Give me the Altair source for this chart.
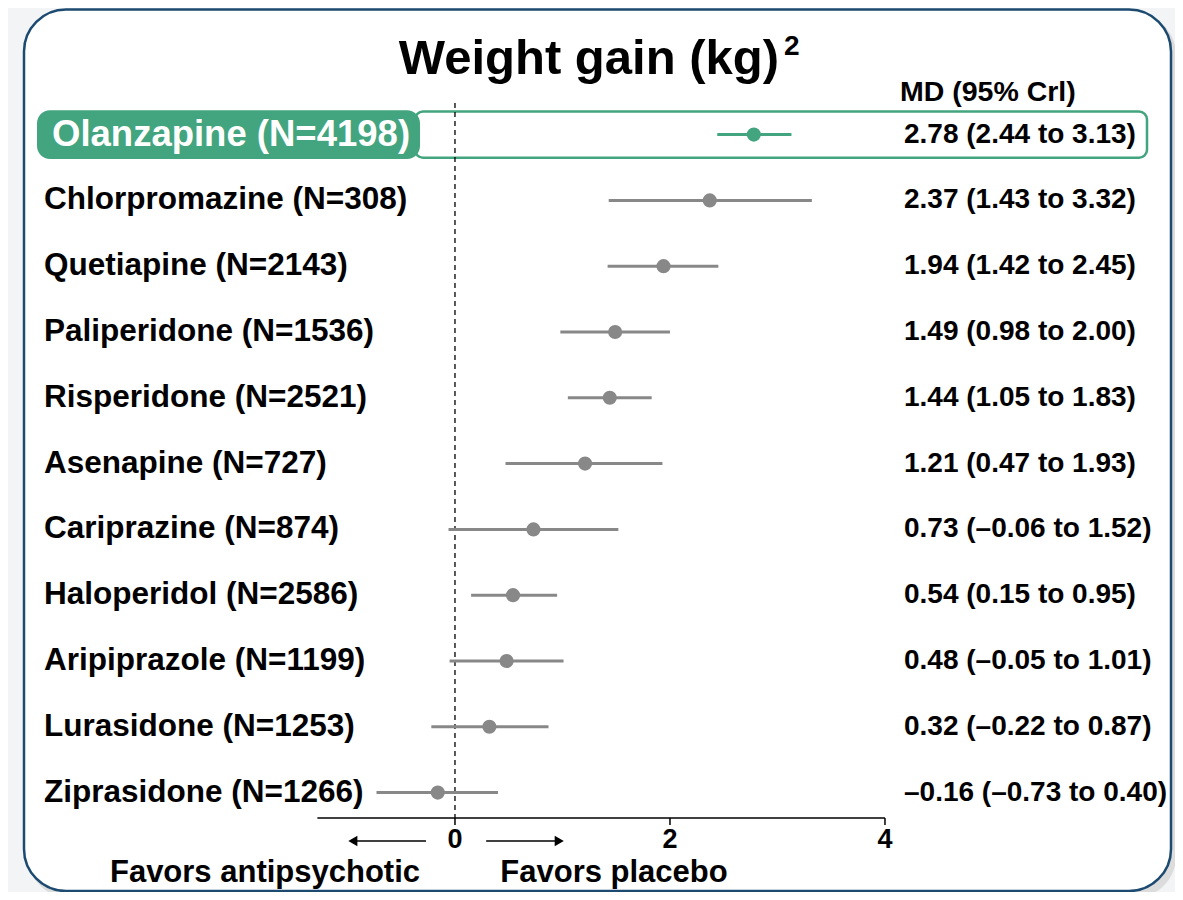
import altair as alt
import pandas as pd

# ---------------- data ----------------
drugs = [
    "Olanzapine (N=4198)",
    "Chlorpromazine (N=308)",
    "Quetiapine (N=2143)",
    "Paliperidone (N=1536)",
    "Risperidone (N=2521)",
    "Asenapine (N=727)",
    "Cariprazine (N=874)",
    "Haloperidol (N=2586)",
    "Aripiprazole (N=1199)",
    "Lurasidone (N=1253)",
    "Ziprasidone (N=1266)",
]
md = [2.78, 2.37, 1.94, 1.49, 1.44, 1.21, 0.73, 0.54, 0.48, 0.32, -0.16]
lo = [2.44, 1.43, 1.42, 0.98, 1.05, 0.47, -0.06, 0.15, -0.05, -0.22, -0.73]
hi = [3.13, 3.32, 2.45, 2.00, 1.83, 1.93, 1.52, 0.95, 1.01, 0.87, 0.40]
highlight = ["Olanzapine (N=4198)"]

tick_values = [0, 2, 4]
axis_extent = [-1.28, 4]
zero_ref = [0]
arrow_from = [-0.95, 0.29]
arrow_to = [-0.27, 0.97]
arrow_heads = [-0.95, 0.97]
arrow_shapes = ["triangle-left", "triangle-right"]

title_text = "Weight gain (kg)"
title_sup = "2"
header_text = "MD (95% Crl)"
favors_left = "Favors antipsychotic"
favors_right = "Favors placebo"

# ---------------- styles ----------------
GREEN = "#42a57f"
GREY = "#888888"
NAVY = "#1c4a70"
FONT = "Liberation Sans"
W, H = 1167, 884
AXIS_Y = 810


def fmt(v):
    return f"{v:.2f}".replace("-", "\u2013")


df = pd.DataFrame({"row": list(range(len(drugs))), "drug": drugs, "md": md, "lo": lo, "hi": hi})
df["label"] = [f"{fmt(m)} ({fmt(l)} to {fmt(h)})" for m, l, h in zip(md, lo, hi)]
df["hl"] = ["y" if d in highlight else "n" for d in drugs]
hl_df = df[df.hl == "y"]
other_df = df[df.hl == "n"]

one = pd.DataFrame({"k": [0]})

xs = alt.Scale(domain=[-4.158, 6.698], nice=False, zero=False)
ys = alt.Scale(domain=[-1.924, 11.511], nice=False, zero=False, reverse=True)
color = alt.Color("hl:N", scale=alt.Scale(domain=["y", "n"], range=[GREEN, GREY]), legend=None)
Y = alt.Y("row:Q", scale=ys, axis=None)

shadow = alt.Chart(one).mark_rect(fill="#c8c8c8", opacity=0.55, cornerRadius=42).encode(
    x=alt.value(20), x2=alt.value(1168), y=alt.value(5), y2=alt.value(890)
)
frame = alt.Chart(one).mark_rect(fill="white", stroke=NAVY, strokeWidth=2.5, cornerRadius=42).encode(
    x=alt.value(16), x2=alt.value(1163), y=alt.value(1.5), y2=alt.value(883)
)

outline = (
    alt.Chart(hl_df)
    .transform_calculate(t="datum.row - 0.35", b="datum.row + 0.35")
    .mark_rect(fillOpacity=0, stroke=GREEN, strokeWidth=2.5, cornerRadius=8)
    .encode(x=alt.value(407), x2=alt.value(1139), y=alt.Y("t:Q", scale=ys, axis=None), y2="b:Q")
)
labelbox = (
    alt.Chart(hl_df)
    .transform_calculate(t="datum.row - 0.37", b="datum.row + 0.37")
    .mark_rect(fill=GREEN, cornerRadius=13)
    .encode(x=alt.value(29), x2=alt.value(412), y=alt.Y("t:Q", scale=ys, axis=None), y2="b:Q")
)

zero_line = alt.Chart(pd.DataFrame({"z": zero_ref})).mark_rule(
    color="black", strokeWidth=1.3, strokeDash=[5, 4]
).encode(x=alt.X("z:Q", scale=xs, axis=None), y=alt.value(95), y2=alt.value(AXIS_Y))

ci = alt.Chart(df).mark_rule(strokeWidth=3).encode(
    x=alt.X("lo:Q", scale=xs, axis=None), x2="hi:Q", y=Y, color=color
)
pts = alt.Chart(df).mark_circle(size=200, opacity=1).encode(
    x=alt.X("md:Q", scale=xs, axis=None), y=Y, color=color
)

labels = alt.Chart(other_df).mark_text(
    align="left", baseline="middle", font=FONT, fontWeight="bold", fontSize=31.5, color="black"
).encode(x=alt.value(36), y=Y, text="drug:N")
hl_label = alt.Chart(hl_df).mark_text(
    align="left", baseline="middle", font=FONT, fontWeight="bold", fontSize=36.5, color="white"
).encode(x=alt.value(44), y=Y, text="drug:N")

values = alt.Chart(df).mark_text(
    align="left", baseline="middle", font=FONT, fontWeight="bold", fontSize=28, color="black"
).encode(x=alt.value(896), y=Y, text="label:N")

header = alt.Chart(pd.DataFrame({"t": [header_text]})).mark_text(
    align="left", baseline="middle", font=FONT, fontWeight="bold", fontSize=28.5, color="black"
).encode(x=alt.value(892), y=alt.value(84), text="t:N")

title = alt.Chart(pd.DataFrame({"t": [title_text]})).mark_text(
    align="right", baseline="alphabetic", font=FONT, fontWeight="bold", fontSize=49, color="black"
).encode(x=alt.value(771), y=alt.value(66), text="t:N")
sup = alt.Chart(pd.DataFrame({"t": [title_sup]})).mark_text(
    align="left", baseline="alphabetic", font=FONT, fontWeight="bold", fontSize=28, color="black"
).encode(x=alt.value(776), y=alt.value(47), text="t:N")

axis_line = alt.Chart(pd.DataFrame({"a": [axis_extent[0]], "b": [axis_extent[1]]})).mark_rule(
    color="black", strokeWidth=1.5
).encode(x=alt.X("a:Q", scale=xs, axis=None), x2="b:Q", y=alt.value(AXIS_Y))
ticks_df = pd.DataFrame({"t": tick_values, "s": [str(v) for v in tick_values]})
ticks = alt.Chart(ticks_df).mark_rule(color="black", strokeWidth=1.5).encode(
    x=alt.X("t:Q", scale=xs, axis=None), y=alt.value(AXIS_Y), y2=alt.value(AXIS_Y + 7)
)
tick_labels = alt.Chart(ticks_df).mark_text(
    baseline="middle", font=FONT, fontWeight="bold", fontSize=27, color="black"
).encode(x=alt.X("t:Q", scale=xs, axis=None), y=alt.value(832), text="s:N")

arrows = alt.Chart(pd.DataFrame({"a": arrow_from, "b": arrow_to})).mark_rule(
    color="black", strokeWidth=1.5
).encode(x=alt.X("a:Q", scale=xs, axis=None), x2="b:Q", y=alt.value(833))
heads = alt.Chart(pd.DataFrame({"p": arrow_heads, "sh": arrow_shapes})).mark_point(
    filled=True, color="black", size=110, opacity=1
).encode(
    x=alt.X("p:Q", scale=xs, axis=None), y=alt.value(833), shape=alt.Shape("sh:N", scale=None)
)

fav = alt.Chart(pd.DataFrame({"t": [favors_left, favors_right], "px": [257, 606]})).mark_text(
    align="center", baseline="alphabetic", font=FONT, fontWeight="bold", fontSize=31, color="black"
).encode(x=alt.X("px:Q", scale=None), y=alt.value(874), text="t:N")

chart = alt.layer(
    shadow, frame, labelbox, outline, zero_line, ci, pts, labels, hl_label, values,
    header, title, sup, axis_line, ticks, tick_labels, arrows, heads, fav,
).properties(
    width=W, height=H, autosize="none", padding=0, background="#f3f4f5"
).configure_view(stroke=None)

chart.save("out.html", embed_options={"renderer": "svg", "actions": False})
